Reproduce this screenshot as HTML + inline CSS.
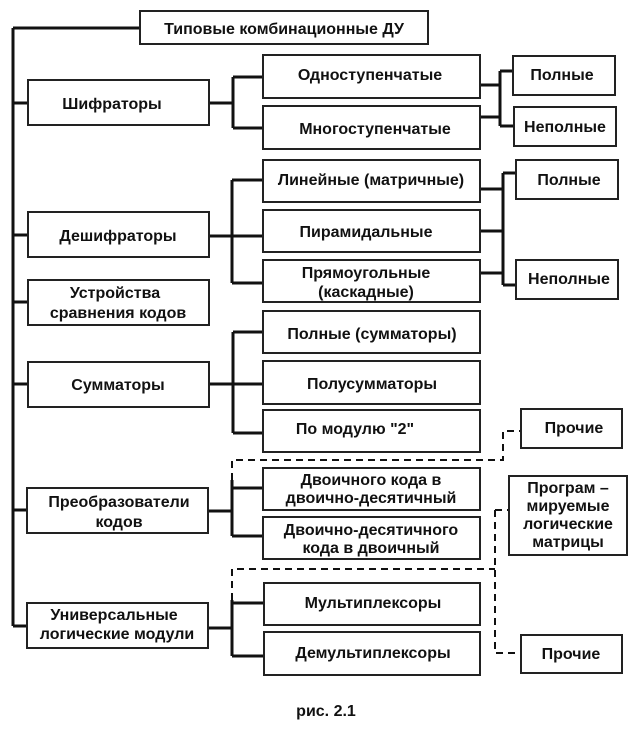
<!DOCTYPE html>
<html><head><meta charset="utf-8"><style>
html,body{margin:0;padding:0;background:#fff;}
svg{display:block;}
text{font-family:"Liberation Sans",sans-serif;font-weight:bold;font-size:16px;fill:#111;text-anchor:middle;}
rect{fill:#fff;stroke:#222;stroke-width:2;}
.l{stroke:#111;stroke-width:3;fill:none;}
.d{stroke:#111;stroke-width:2;fill:none;stroke-dasharray:7,5;}
</style></head><body>
<svg width="642" height="733" viewBox="0 0 642 733">
<!-- main trunk -->
<path class="l" d="M13 28 H140 M13 28 V626 M13 103 H28 M13 235 H28 M13 302 H28 M13 384 H28 M13 510 H28 M13 626 H28"/>
<!-- Шифраторы -->
<path class="l" d="M209 103 H233 M233 77 V128 M233 77 H263 M233 128 H263"/>
<path class="l" d="M480 85 H500 M480 117 H500 M500 71 V126 M500 71 H513 M500 126 H514"/>
<!-- Дешифраторы -->
<path class="l" d="M209 236 H263 M232 180 V283 M232 180 H263 M232 283 H263"/>
<path class="l" d="M480 189 H503 M480 231 H503 M480 273 H503 M503 173 V285 M503 173 H516 M503 285 H516"/>
<!-- Сумматоры -->
<path class="l" d="M209 384 H263 M233 332 V433 M233 332 H263 M233 433 H263"/>
<!-- Преобразователи -->
<path class="l" d="M208 511 H232 M232 480 V536 M232 488 H263 M232 536 H263"/>
<!-- Универсальные -->
<path class="l" d="M208 628 H232 M232 600 V656 M232 603 H264 M232 656 H264"/>
<!-- dashed -->
<path class="d" d="M232 480 V460 H503 V431 H521"/>
<path class="d" d="M232 600 V569 H495 M495 510 V653 H521 M495 510 H509"/>
<!-- boxes -->
<rect x="140" y="11" width="288" height="33"/><text x="284" y="34">Типовые комбинационные ДУ</text>
<rect x="28" y="80" width="181" height="45"/><text x="112" y="109">Шифраторы</text>
<rect x="263" y="55" width="217" height="43"/><text x="370" y="80">Одноступенчатые</text>
<rect x="263" y="106" width="217" height="43"/><text x="375" y="134">Многоступенчатые</text>
<rect x="513" y="56" width="102" height="39"/><text x="562" y="80">Полные</text>
<rect x="514" y="107" width="102" height="39"/><text x="565" y="132">Неполные</text>
<rect x="263" y="160" width="217" height="42"/><text x="371" y="185">Линейные (матричные)</text>
<rect x="263" y="210" width="217" height="42"/><text x="366" y="237">Пирамидальные</text>
<rect x="263" y="260" width="217" height="42"/><text x="366" y="278">Прямоугольные</text><text x="366" y="297">(каскадные)</text>
<rect x="516" y="160" width="102" height="39"/><text x="569" y="185">Полные</text>
<rect x="516" y="260" width="102" height="39"/><text x="569" y="284">Неполные</text>
<rect x="28" y="212" width="181" height="45"/><text x="118" y="241">Дешифраторы</text>
<rect x="28" y="280" width="181" height="45"/><text x="115" y="298">Устройства</text><text x="118" y="318">сравнения кодов</text>
<rect x="263" y="311" width="217" height="42"/><text x="372" y="339">Полные (сумматоры)</text>
<rect x="28" y="362" width="181" height="45"/><text x="118" y="390">Сумматоры</text>
<rect x="263" y="361" width="217" height="43"/><text x="372" y="389">Полусумматоры</text>
<rect x="263" y="410" width="217" height="42"/><text x="355" y="434">По модулю "2"</text>
<rect x="521" y="409" width="101" height="39"/><text x="574" y="433">Прочие</text>
<rect x="263" y="468" width="217" height="42"/><text x="371" y="485">Двоичного кода в</text><text x="371" y="503">двоично-десятичный</text>
<rect x="263" y="517" width="217" height="42"/><text x="371" y="535">Двоично-десятичного</text><text x="371" y="553">кода в двоичный</text>
<rect x="27" y="488" width="181" height="45"/><text x="119" y="507">Преобразователи</text><text x="119" y="527">кодов</text>
<rect x="509" y="476" width="118" height="79"/><text x="568" y="493">Програм –</text><text x="568" y="511">мируемые</text><text x="568" y="529">логические</text><text x="568" y="547">матрицы</text>
<rect x="264" y="583" width="216" height="42"/><text x="373" y="608">Мультиплексоры</text>
<rect x="264" y="632" width="216" height="43"/><text x="373" y="658">Демультиплексоры</text>
<rect x="27" y="603" width="181" height="45"/><text x="114" y="620">Универсальные</text><text x="117" y="639">логические модули</text>
<rect x="521" y="635" width="101" height="38"/><text x="571" y="659">Прочие</text>
<text x="326" y="716">рис. 2.1</text>
</svg>
</body></html>
